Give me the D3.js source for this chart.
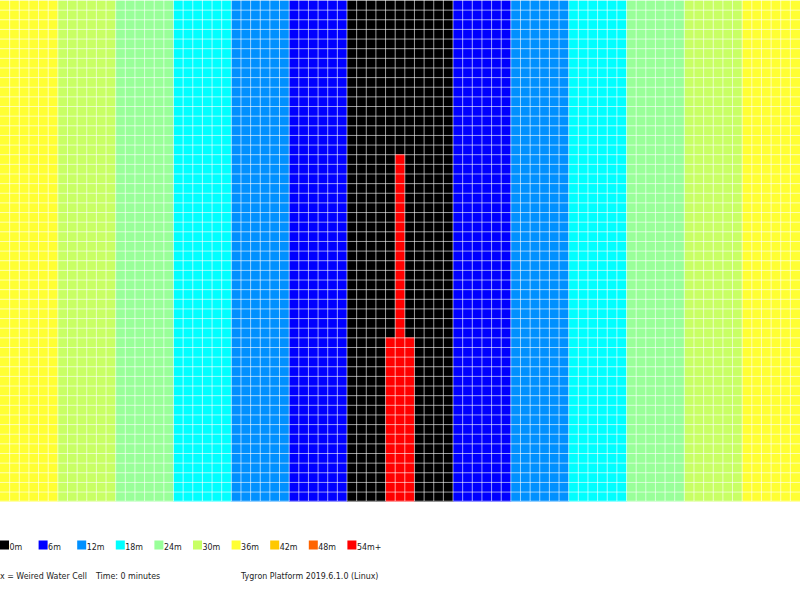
<!doctype html>
<html lang="en">
  <head>
    <meta charset="utf-8">
    <title>Weir water depth</title>
    <style>
      body{margin:0;background:#fff;}
      svg{display:block;}
      text{font-family:"DejaVu Sans", Verdana, sans-serif;font-size:9px;fill:#222;}
    </style>
  </head>
  <body>
    <div class="holder"></div>
    <script src="https://cdn.jsdelivr.net/npm/d3@7/dist/d3.min.js"></script>
    <script>

      // legend classes (depth in metres) and their colours
      var legendLabels = ["0m", "6m", "12m", "18m", "24m", "30m", "36m", "42m", "48m", "54m+"];
      var legendColors = ["#000000", "#0000ff", "#0090ff", "#00ffff", "#99ff99",
                          "#c8ff64", "#ffff33", "#ffc800", "#ff6400", "#ff0000"];

      // depth per grid column, left to right (83 columns)
      var columnDepths = [
        36, 36, 36, 36, 36, 36,
        30, 30, 30, 30, 30, 30,
        24, 24, 24, 24, 24, 24,
        18, 18, 18, 18, 18, 18,
        12, 12, 12, 12, 12, 12,
         6,  6,  6,  6,  6,  6,
         0,  0,  0,  0,  0,  0,  0,  0,  0,  0,  0,
         6,  6,  6,  6,  6,  6,
        12, 12, 12, 12, 12, 12,
        18, 18, 18, 18, 18, 18,
        24, 24, 24, 24, 24, 24,
        30, 30, 30, 30, 30, 30,
        36, 36, 36, 36, 36, 36
      ];

      var rowCount = 52;

      // weired water cells: column, first row, last row, depth
      var weirCells = [
        {col: 41, from: 16, to: 51, depth: 54},
        {col: 40, from: 35, to: 51, depth: 54},
        {col: 42, from: 35, to: 51, depth: 54}
      ];

      var footerTexts = [
        {text: "x = Weired Water Cell", x: 0},
        {text: "Time: 0 minutes", x: 96},
        {text: "Tygron Platform 2019.6.1.0 (Linux)", x: 241}
      ];

      /******** drawing ******************/

      var width = 800, height = 598;
      var cell = width / columnDepths.length;
      var squeeze = 0.88; // text is drawn a bit narrow

      var svg = d3.select(".holder")
          .append("svg")
          .attr("width", width)
          .attr("height", height);

      var x = d3.scaleBand()
          .domain(d3.range(columnDepths.length))
          .range([0, width]);

      var y = d3.scaleBand()
          .domain(d3.range(rowCount))
          .range([0, cell * rowCount]);

      var color = d3.scaleThreshold()
          .domain([6, 12, 18, 24, 30, 36, 42, 48, 54])
          .range(legendColors);

      // build the cell table
      var cells = [];
      columnDepths.forEach(function(d, c){
        d3.range(rowCount).forEach(function(r){
          cells.push({col: c, row: r, depth: d});
        });
      });
      weirCells.forEach(function(w){
        cells.forEach(function(d){
          if (d.col === w.col && d.row >= w.from && d.row <= w.to) d.depth = w.depth;
        });
      });

      svg.append("g").selectAll("rect")
          .data(cells)
          .enter().append("rect")
          .attr("x", function(d){ return x(d.col); })
          .attr("y", function(d){ return y(d.row); })
          .attr("width", x.bandwidth() + 0.5)
          .attr("height", y.bandwidth() + 0.5)
          .style("fill", function(d){ return color(d.depth); });

      // grid lines
      var grid = svg.append("g")
          .style("stroke", "#fff")
          .style("stroke-opacity", 0.6)
          .style("stroke-width", 1);

      grid.selectAll(".v")
          .data(d3.range(1, columnDepths.length))
          .enter().append("line")
          .attr("x1", function(d){ return x(d); })
          .attr("x2", function(d){ return x(d); })
          .attr("y1", 0)
          .attr("y2", cell * rowCount);

      grid.selectAll(".h")
          .data(d3.range(0, rowCount + 1))
          .enter().append("line")
          .attr("x1", 0)
          .attr("x2", width)
          .attr("y1", function(d){ return y(d) === undefined ? cell * rowCount : y(d) + 0.5; })
          .attr("y2", function(d){ return y(d) === undefined ? cell * rowCount : y(d) + 0.5; });

      // legend
      var legend = svg.append("g").selectAll("g")
          .data(legendLabels)
          .enter().append("g")
          .attr("transform", function(d, i){ return "translate(" + (i * 38.6) + ",540.5)"; });

      legend.append("rect")
          .attr("width", 9)
          .attr("height", 9)
          .style("fill", function(d, i){ return legendColors[i]; });

      legend.append("text")
          .attr("transform", "translate(9.5,9) scale(" + squeeze + ",1)")
          .text(function(d){ return d; });

      svg.append("g").selectAll("text")
          .data(footerTexts)
          .enter().append("text")
          .attr("transform", function(d){ return "translate(" + d.x + ",578.5) scale(" + squeeze + ",1)"; })
          .text(function(d){ return d.text; });

    </script>
  </body>
</html>
